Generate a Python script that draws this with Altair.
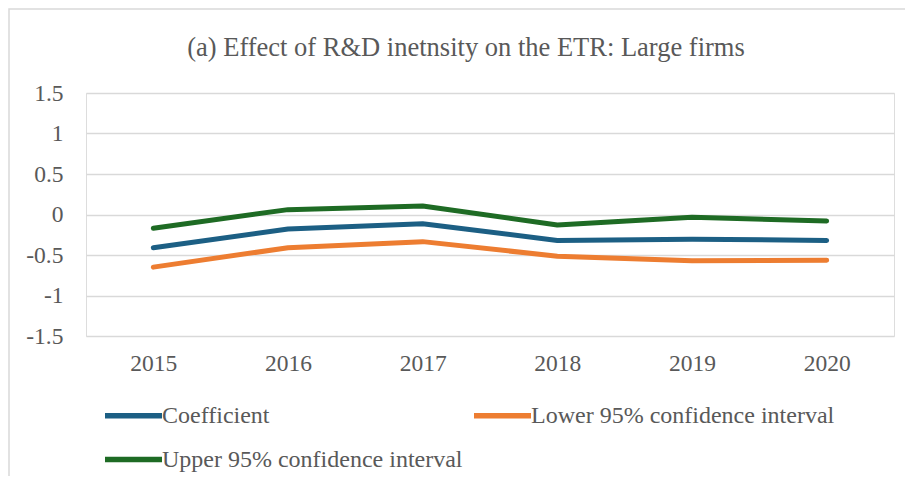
import altair as alt
import pandas as pd

years = ["2015", "2016", "2017", "2018", "2019", "2020"]
coefficient = [-0.41, -0.18, -0.115, -0.32, -0.305, -0.32]
lower_ci = [-0.65, -0.41, -0.335, -0.515, -0.57, -0.565]
upper_ci = [-0.17, 0.06, 0.105, -0.13, -0.035, -0.08]
series_names = ["Coefficient", "Lower 95% confidence interval", "Upper 95% confidence interval"]
series_colors = ["#1C5F84", "#ED7D31", "#1E6B24"]
y_ticks = [-1.5, -1, -0.5, 0, 0.5, 1, 1.5]

rows = []
for name, vals in zip(series_names, [coefficient, lower_ci, upper_ci]):
    for yr, v in zip(years, vals):
        rows.append({"Year": yr, "Value": v, "Series": name})
df = pd.DataFrame(rows)

FONT = "Liberation Serif"
W, H = 808, 243

lines = alt.Chart(df).mark_line(strokeWidth=5, strokeCap="round", strokeJoin="round").encode(
    x=alt.X("Year:O", sort=years, title=None,
            scale=alt.Scale(type="point", padding=0.5),
            axis=alt.Axis(labelAngle=0, ticks=False, domain=False, grid=False,
                          labelPadding=15, labelFontSize=23.5, labelFont=FONT,
                          labelColor="#595959")),
    y=alt.Y("Value:Q", title=None,
            scale=alt.Scale(domain=[-1.5, 1.5], nice=False, zero=False),
            axis=alt.Axis(values=y_ticks, ticks=False, domain=False, grid=True,
                          gridColor="#D9D9D9", gridWidth=1.5,
                          labelExpr="'' + datum.value",
                          labelPadding=23, labelFontSize=23.5, labelFont=FONT,
                          labelColor="#595959")),
    color=alt.Color("Series:N", sort=series_names,
                    scale=alt.Scale(domain=series_names, range=series_colors),
                    legend=alt.Legend(title=None, orient="none", legendX=16, legendY=291,
                                      direction="horizontal",
                                      columns=2, symbolType="stroke", symbolSize=3249,
                                      symbolStrokeWidth=5.5, labelFontSize=24,
                                      labelFont=FONT, labelColor="#595959", labelLimit=500,
                                      labelOffset={"expr": "-3"},
                                      columnPadding=0,
                                      rowPadding={"expr": "-24"})),
)

border = alt.Chart(pd.DataFrame({"a": [0]})).mark_rect(
    fill=None, stroke="#D9D9D9", strokeWidth=1.5
).encode(
    x=alt.value(-77), x2=alt.value(W + 60), y=alt.value(-84), y2=alt.value(H + 300)
)

chart = alt.layer(border, lines).properties(
    width=W, height=H,
    title=alt.TitleParams("(a) Effect of R&D inetnsity on the ETR: Large firms",
                          font=FONT, fontSize=26.5, fontWeight="normal", color="#595959",
                          anchor="middle", frame="group", dx=-24, offset=-74,
                          baseline="alphabetic"),
    autosize=alt.AutoSizeParams(type="none"),
    padding={"left": 78, "top": 85, "right": 11, "bottom": 140},
).configure_view(stroke=None).configure(background="white")

chart.save("out.html", embed_options={"renderer": "svg", "actions": False})
